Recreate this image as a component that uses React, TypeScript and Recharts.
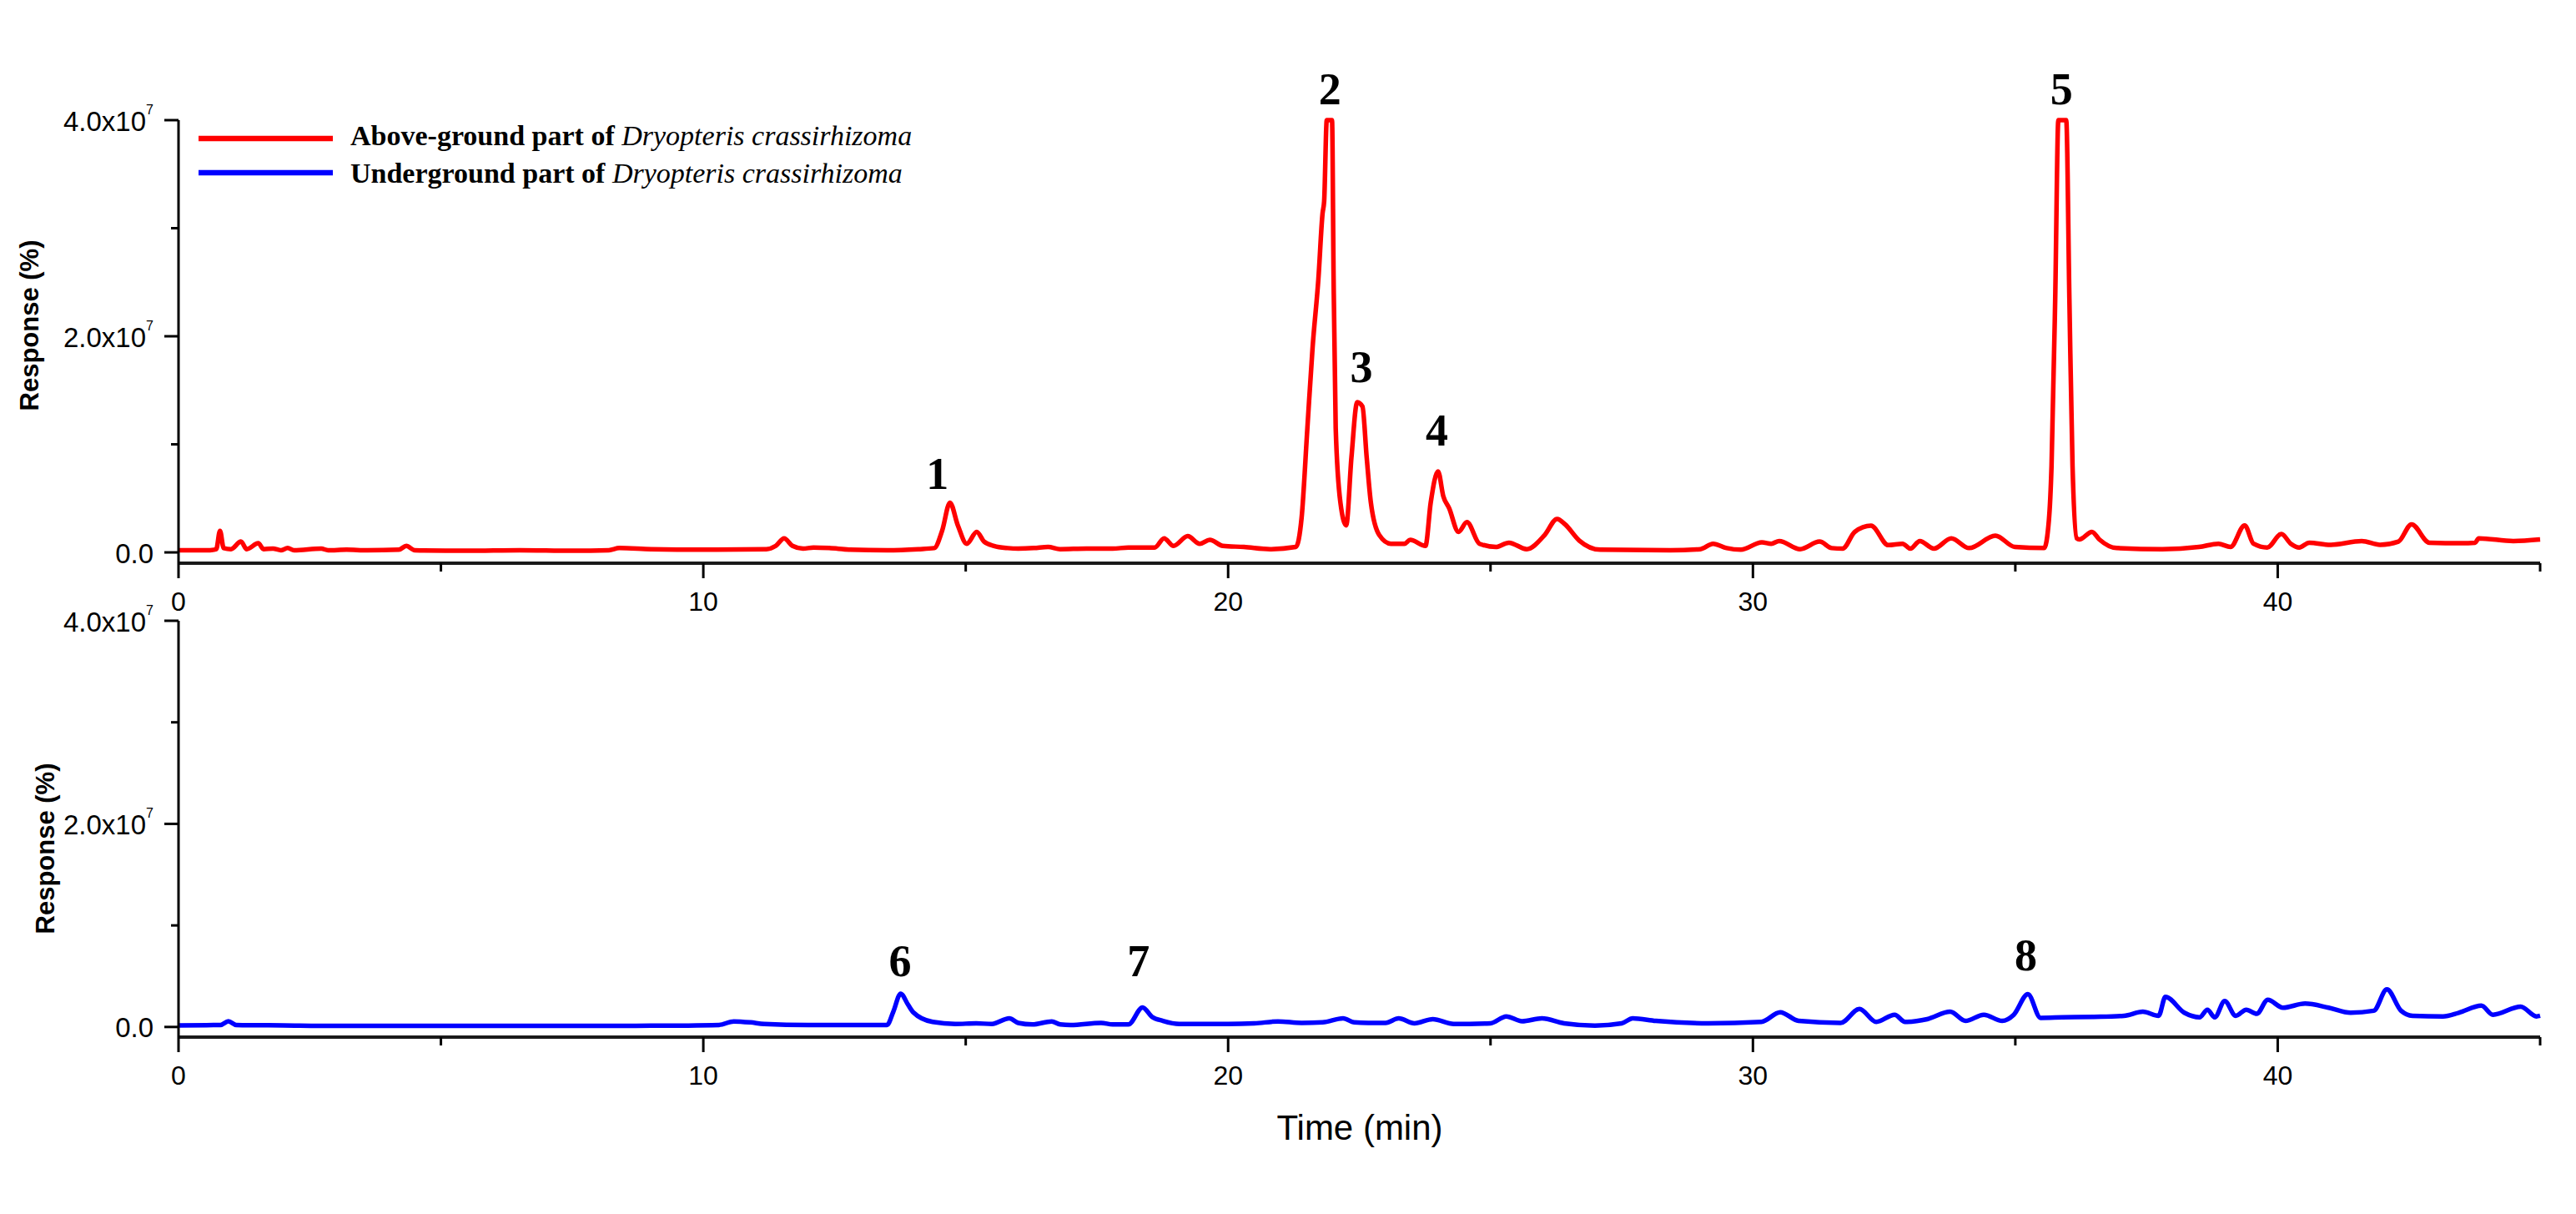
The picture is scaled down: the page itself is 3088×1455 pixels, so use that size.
import React from 'react';
import { LineChart, Line, XAxis, YAxis, ReferenceDot, Legend } from 'recharts';

// retention time axis
const timeTicks = [0, 5, 10, 15, 20, 25, 30, 35, 40, 45];
const timeLabels = [0, 10, 20, 30, 40];

// response axis (ticks in counts, labels as printed)
const responseTicks = [0, 1e7, 2e7, 3e7, 4e7];
const responseTickText = ['0.0', '', '2.0x10', '', '4.0x10'];
const responseTickExp = ['', '', '7', '', '7'];

// above-ground trace: time (min) and response (x10^6)
const aboveTimes = [
  0, 0.6, 0.72, 0.79, 0.86, 1.0, 1.19, 1.3, 1.52, 1.62, 1.8, 1.95, 2.08, 2.2, 2.72, 2.85, 3.2, 3.6,
  4.2, 4.34, 4.5, 5.5, 6.5, 7.5, 8.2, 8.4, 9.0, 10.0, 11.2, 11.38, 11.54, 11.7, 11.9, 12.1, 12.4,
  12.8, 13.5, 14.1, 14.4, 14.55, 14.7, 14.85, 15.02, 15.21, 15.35, 15.54, 15.8, 16.0, 16.3, 16.57,
  16.8, 17.3, 17.8, 18.1, 18.6, 18.78, 18.96, 19.23, 19.46, 19.65, 19.9, 20.3, 20.8, 21.29, 21.4,
  21.51, 21.61, 21.72, 21.8, 21.83, 21.88, 21.98, 22.01, 22.05, 22.14, 22.25, 22.35, 22.46, 22.56,
  22.64, 22.72, 22.88, 23.1, 23.36, 23.47, 23.76, 23.86, 24.0, 24.1, 24.21, 24.39, 24.55, 24.79,
  25.1, 25.35, 25.69, 26.03, 26.27, 26.42, 26.69, 27.09, 28.43, 29.0, 29.24, 29.5, 29.77, 30.17,
  30.35, 30.5, 30.9, 31.27, 31.5, 31.71, 31.94, 32.25, 32.58, 32.85, 33.0, 33.18, 33.45, 33.78,
  34.12, 34.62, 34.99, 35.55, 35.64, 35.69, 35.76, 35.82, 35.97, 36.03, 36.09, 36.17, 36.22, 36.46,
  36.6, 36.93, 37.8, 38.5, 38.87, 39.1, 39.37, 39.54, 39.8, 40.07, 40.25, 40.41, 40.6, 41.0, 41.6,
  41.95, 42.3, 42.55, 42.89, 43.5, 43.76, 43.83, 44.49, 45.0,
];
const aboveValues = [
  0.2, 0.2, 0.3, 2.0, 0.4, 0.3, 1.0, 0.3, 0.85, 0.3, 0.35, 0.2, 0.4, 0.2, 0.35, 0.2, 0.25, 0.2,
  0.25, 0.6, 0.2, 0.15, 0.2, 0.15, 0.2, 0.4, 0.3, 0.25, 0.3, 0.6, 1.3, 0.6, 0.35, 0.45, 0.4,
  0.25, 0.2, 0.3, 0.4, 2.0, 4.6, 2.5, 0.8, 1.9, 1.0, 0.6, 0.4, 0.35, 0.4, 0.5,
  0.3, 0.35, 0.35, 0.45, 0.45, 1.3, 0.6, 1.5, 0.8, 1.17, 0.6, 0.5, 0.3, 0.5, 3.2,
  11.5, 19.0, 25.3, 31.4, 32.5, 40, 40, 25.3, 11.5, 4.6, 2.5, 8.8, 13.9, 13.5,
  8.8, 4.6, 1.6, 0.8, 0.8, 1.17, 0.6, 4.6, 7.5, 5.2, 4.1, 1.9, 2.8, 0.8,
  0.5, 0.9, 0.3, 1.6, 3.1, 2.6, 1.1, 0.25, 0.2, 0.3, 0.8, 0.4, 0.25, 0.93,
  0.8, 1.05, 0.3, 1.0, 0.4, 0.35, 1.9, 2.47, 0.67, 0.8, 0.35, 1.05, 0.35, 1.3,
  0.4, 1.55, 0.5, 0.4, 3.0, 8.0, 23.5, 40, 40, 23.5, 8.0, 1.3, 1.2, 1.9,
  1.2, 0.4, 0.3, 0.5, 0.8, 0.5, 2.5, 0.8, 0.45, 1.7, 0.8, 0.45, 0.9, 0.7, 1.05,
  0.7, 1.0, 2.6, 0.9, 0.85, 0.9, 1.3, 1.05, 1.2,
];

// underground trace: time (min) and response (x10^6)
const underTimes = [
  0, 0.8, 0.95, 1.1, 2.0, 3.0, 5.0, 7.0, 9.0, 10.3, 10.58, 10.9, 11.16, 12.0, 13.5, 13.62, 13.76,
  13.9, 14.0, 14.37, 14.8, 15.2, 15.5, 15.83, 16.0, 16.27, 16.64, 16.8, 17.0, 17.58, 17.8, 18.1,
  18.37, 18.55, 18.76, 19.07, 20.0, 20.5, 20.95, 21.4, 21.8, 22.19, 22.4, 22.67, 23.0, 23.25,
  23.55, 23.9, 24.3, 25.0, 25.3, 25.6, 25.98, 26.4, 26.99, 27.5, 27.71, 28.15, 29.15, 30.16,
  30.52, 30.87, 31.67, 32.03, 32.35, 32.7, 32.9, 33.32, 33.76, 34.05, 34.4, 34.75, 34.97, 35.24,
  35.48, 35.9, 36.5, 37.07, 37.43, 37.73, 37.86, 38.22, 38.51, 38.66, 38.8, 38.99, 39.2, 39.4,
  39.6, 39.81, 40.1, 40.52, 40.97, 41.39, 41.83, 42.08, 42.35, 42.57, 43.15, 43.45, 43.88, 44.1,
  44.63, 44.93, 45.0,
];
const underValues = [
  0.15, 0.2, 0.57, 0.2, 0.15, 0.1, 0.1, 0.1, 0.12, 0.2, 0.55, 0.45, 0.3, 0.2, 0.2, 1.5, 3.28,
  2.2, 1.45, 0.5, 0.3, 0.35, 0.3, 0.85, 0.4, 0.25, 0.55, 0.25, 0.2, 0.4, 0.25, 0.25,
  1.92, 1.0, 0.6, 0.3, 0.3, 0.35, 0.55, 0.4, 0.45, 0.85, 0.45, 0.4, 0.4, 0.85,
  0.36, 0.77, 0.3, 0.36, 1.04, 0.57, 0.85, 0.36, 0.14, 0.36, 0.85, 0.6, 0.36, 0.5,
  1.45, 0.6, 0.4, 1.78, 0.5, 1.2, 0.5, 0.77, 1.5, 0.6, 1.2, 0.6, 1.2, 3.23,
  0.9, 0.95, 1.0, 1.1, 1.5, 1.1, 2.96, 1.4, 0.95, 1.7, 0.95, 2.55, 1.1, 1.7,
  1.3, 2.68, 1.9, 2.3, 1.9, 1.4, 1.6, 3.7, 1.6, 1.1, 1.04, 1.4, 2.1, 1.2,
  2.0, 1.04, 1.1,
];

// numbered peaks: label, time (min), response level of the label centre (x10^6)
const abovePeakNames = ['1', '2', '3', '4', '5'];
const abovePeakTimes = [14.46, 21.94, 22.54, 23.98, 35.88];
const abovePeakLevels = [7.3, 42.9, 17.2, 11.3, 42.9];
const underPeakNames = ['6', '7', '8'];
const underPeakTimes = [13.75, 18.29, 35.2];
const underPeakLevels = [6.5, 6.5, 7.1];

const legendNames = ['Above-ground part of ', 'Underground part of '];
const speciesName = 'Dryopteris crassirhizoma';
const legendColors = ['#ff0000', '#0000ff'];

const aboveData = aboveTimes.map((t, i) => ({ t, v: aboveValues[i] * 1e6 }));
const underData = underTimes.map((t, i) => ({ t, v: underValues[i] * 1e6 }));

const SANS = '"Liberation Sans", Arial, sans-serif';
const SERIF = '"Liberation Serif", "Times New Roman", serif';

const TimeTick = ({ x, y, payload }: any) => {
  const major = payload.value % 10 === 0;
  return (
    <g>
      <line x1={x} x2={x} y1={y} y2={y + (major ? 18 : 10)} stroke="#000" strokeWidth={3} />
      {timeLabels.includes(payload.value) && (
        <text x={x} y={y + 45} dy="0.36em" textAnchor="middle" fontSize={32} fontFamily={SANS} fill="#000">
          {payload.value}
        </text>
      )}
    </g>
  );
};

const ResponseTick = ({ x, y, payload }: any) => {
  const i = responseTicks.indexOf(payload.value);
  const major = responseTickText[i] !== '';
  return (
    <g>
      <line x1={x - (major ? 17 : 9)} x2={x} y1={y} y2={y} stroke="#000" strokeWidth={3} />
      {major && (
        <text x={x - 30} y={y} dy="0.38em" textAnchor="end" fontSize={33} fontFamily={SANS} fill="#000">
          {responseTickText[i]}
          {responseTickExp[i] && (
            <tspan dy={-20} fontSize={16}>
              {responseTickExp[i]}
            </tspan>
          )}
        </text>
      )}
    </g>
  );
};

const YTitle = ({ px, py }: any) => (
  <text
    x={px}
    y={py}
    transform={`rotate(-90 ${px} ${py})`}
    textAnchor="middle"
    dominantBaseline="central"
    fontSize={31}
    fontWeight="bold"
    fontFamily={SANS}
    fill="#000"
  >
    Response (%)
  </text>
);

const XTitle = ({ px, py }: any) => (
  <text x={px} y={py} textAnchor="middle" fontSize={42} fontFamily={SANS} fill="#000">
    Time (min)
  </text>
);

const PeakLabel = ({ viewBox, text }: any) => {
  const cx = viewBox.x + (viewBox.width || 0) / 2;
  const cy = viewBox.y + (viewBox.height || 0) / 2;
  return (
    <text x={cx} y={cy} dy="0.34em" textAnchor="middle" fontSize={54} fontWeight="bold" fontFamily={SERIF} fill="#000">
      {text}
    </text>
  );
};

const LegendBox = () => (
  <svg width={900} height={100}>
    {legendNames.map((name, i) => (
      <g key={name}>
        <line x1={8} x2={169} y1={26 + i * 41} y2={26 + i * 41} stroke={legendColors[i]} strokeWidth={6.5} />
        <text x={190} y={34 + i * 45} fontSize={34} fontFamily={SERIF} fill="#000">
          <tspan fontWeight="bold">{name}</tspan>
          <tspan fontStyle="italic">{speciesName}</tspan>
        </text>
      </g>
    ))}
  </svg>
);

const axisStyle = { stroke: '#1a1a1a', strokeWidth: 4 };

export default function App() {
  return (
    <div style={{ position: 'absolute', left: 0, top: 0, width: 3088, height: 1455, background: '#fff' }}>
      <div style={{ position: 'absolute', left: 0, top: 0 }}>
        <LineChart width={3088} height={760} data={aboveData} margin={{ top: 144, right: 43, bottom: 0, left: 0 }}>
          <XAxis
            type="number"
            dataKey="t"
            domain={[0, 45]}
            ticks={timeTicks}
            interval={0}
            tick={<TimeTick />}
            tickLine={false}
            tickSize={0}
            tickMargin={0}
            axisLine={axisStyle}
            height={85}
          />
          <YAxis
            type="number"
            domain={[-1e6, 4e7]}
            ticks={responseTicks}
            interval={0}
            tick={<ResponseTick />}
            tickLine={false}
            tickSize={0}
            tickMargin={0}
            axisLine={{ stroke: '#000', strokeWidth: 3 }}
            width={214}
            label={<YTitle px={35} py={390} />}
          />
          <Legend
            layout="vertical"
            align="center"
            verticalAlign="middle"
            content={<LegendBox />}
            wrapperStyle={{ position: 'absolute', left: 230, top: 140, width: 900, height: 100 }}
          />
          <Line
            type="monotone"
            dataKey="v"
            stroke={legendColors[0]}
            strokeWidth={5.5}
            dot={false}
            activeDot={false}
            isAnimationActive={false}
          />
          {abovePeakNames.map((name, i) => (
            <ReferenceDot
              key={name}
              x={abovePeakTimes[i]}
              y={abovePeakLevels[i] * 1e6}
              r={0}
              fill="none"
              stroke="none"
              ifOverflow="visible"
              label={<PeakLabel text={name} />}
            />
          ))}
        </LineChart>
      </div>
      <div style={{ position: 'absolute', left: 0, top: 690 }}>
        <LineChart width={3088} height={765} data={underData} margin={{ top: 54, right: 43, bottom: 0, left: 0 }}>
          <XAxis
            type="number"
            dataKey="t"
            domain={[0, 45]}
            ticks={timeTicks}
            interval={0}
            tick={<TimeTick />}
            tickLine={false}
            tickSize={0}
            tickMargin={0}
            axisLine={axisStyle}
            height={212}
            label={<XTitle px={1630} py={676} />}
          />
          <YAxis
            type="number"
            domain={[-1e6, 4e7]}
            ticks={responseTicks}
            interval={0}
            tick={<ResponseTick />}
            tickLine={false}
            tickSize={0}
            tickMargin={0}
            axisLine={{ stroke: '#000', strokeWidth: 3 }}
            width={214}
            label={<YTitle px={54} py={327} />}
          />
          <Line
            type="monotone"
            dataKey="v"
            stroke={legendColors[1]}
            strokeWidth={5.5}
            dot={false}
            activeDot={false}
            isAnimationActive={false}
          />
          {underPeakNames.map((name, i) => (
            <ReferenceDot
              key={name}
              x={underPeakTimes[i]}
              y={underPeakLevels[i] * 1e6}
              r={0}
              fill="none"
              stroke="none"
              ifOverflow="visible"
              label={<PeakLabel text={name} />}
            />
          ))}
        </LineChart>
      </div>
    </div>
  );
}
